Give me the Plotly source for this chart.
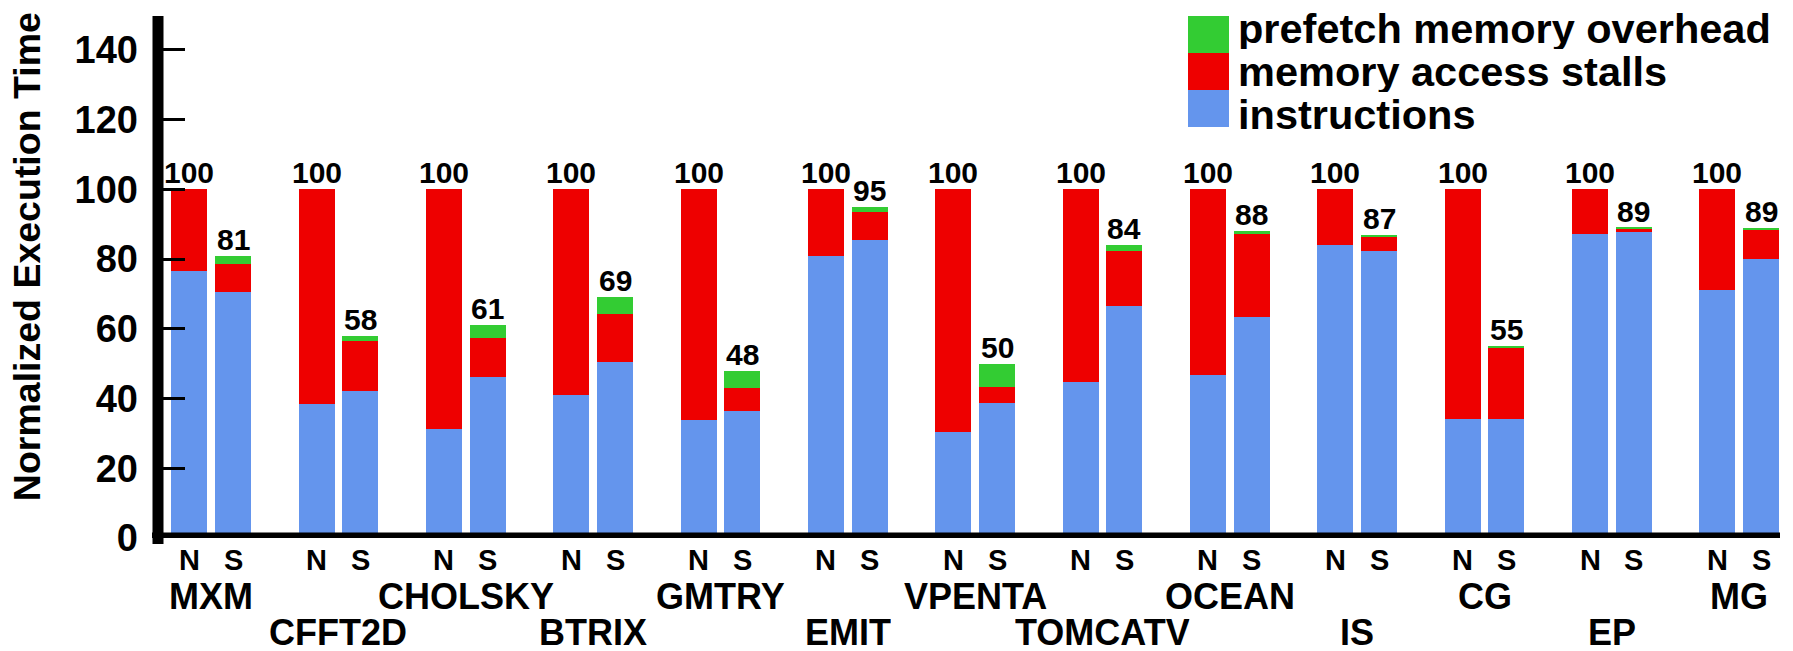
import plotly.graph_objects as go

# Benchmarks and the two variants drawn for each one
benchmarks = ["MXM", "CFFT2D", "CHOLSKY", "BTRIX", "GMTRY", "EMIT", "VPENTA",
              "TOMCATV", "OCEAN", "IS", "CG", "EP", "MG"]
variants = ["N", "S"]

# Normalized execution time components, N variant
instr_n = [76.6, 38.3, 31.4, 41.0, 33.8, 80.9, 30.4, 44.8, 46.7, 84.0, 34.1, 87.2, 71.0]
stall_n = [23.4, 61.7, 68.6, 59.0, 66.2, 19.1, 69.6, 55.2, 53.3, 16.0, 65.9, 12.8, 29.0]
over_n = [0.0, 0.0, 0.0, 0.0, 0.0, 0.0, 0.0, 0.0, 0.0, 0.0, 0.0, 0.0, 0.0]

# Normalized execution time components, S variant
instr_s = [70.6, 42.1, 46.2, 50.4, 36.5, 85.5, 38.8, 66.5, 63.3, 82.3, 34.1, 87.7, 79.9]
stall_s = [8.0, 14.3, 11.1, 13.8, 6.5, 7.9, 4.6, 15.8, 23.9, 4.2, 20.4, 1.0, 8.3]
over_s = [2.4, 1.6, 3.7, 4.8, 5.0, 1.6, 6.6, 1.7, 0.8, 0.5, 0.5, 0.3, 0.8]

y_ticks = [0, 20, 40, 60, 80, 100, 120, 140]

FAM = "Liberation Sans, Arial, sans-serif"
BLUE, RED, GREEN = "#6495ED", "#EE0000", "#33CC33"

# Pixel layout of the page
W, H = 1793, 651
ML, MR, MT, MB = 158, 13, 15, 113
PW, PH = W - ML - MR, H - MT - MB

OFFSET = 0.172   # half distance between N and S bar centres (group units)
BAR_W = 0.283

idx = list(range(len(benchmarks)))
x_n = [i - OFFSET for i in idx]
x_s = [i + OFFSET for i in idx]
x_all = x_n + x_s

series = [
    ("instructions", instr_n + instr_s, BLUE),
    ("memory access stalls", stall_n + stall_s, RED),
    ("prefetch memory overhead", over_n + over_s, GREEN),
]

fig = go.Figure()
for name, vals, color in series:
    fig.add_trace(go.Bar(
        x=x_all, y=vals, name=name, width=BAR_W,
        marker=dict(color=color, line=dict(width=0)),
        showlegend=False, hoverinfo="skip",
    ))

annotations = []

# Totals above each bar
totals = [a + b + c for a, b, c in zip(instr_n + instr_s, stall_n + stall_s, over_n + over_s)]
for x, t in zip(x_all, totals):
    annotations.append(dict(
        x=x, y=t, xref="x", yref="y", text=f"{t:.0f}", showarrow=False,
        xanchor="center", yanchor="bottom", yshift=-2,
        font=dict(family=FAM, size=30, color="black", weight="bold"),
    ))

# N / S labels under each bar
for i in idx:
    for x, v in ((x_n[i], variants[0]), (x_s[i], variants[1])):
        annotations.append(dict(
            x=x, y=0, xref="x", yref="paper", text=v, showarrow=False,
            xanchor="center", yanchor="middle", yshift=-22,
            font=dict(family=FAM, size=29, color="black", weight="bold"),
        ))

# Benchmark names, alternating over two rows
for i, name in enumerate(benchmarks):
    annotations.append(dict(
        x=i, y=0, xref="x", yref="paper", text=name, showarrow=False,
        xanchor="center", yanchor="middle", yshift=-58 if i % 2 == 0 else -94,
        height=34, valign="middle",
        font=dict(family=FAM, size=36, color="black", weight="bold"),
    ))

# Y axis title
annotations.append(dict(
    x=0, y=0.537, xref="paper", yref="paper", text="Normalized Execution Time",
    showarrow=False, textangle=-90, xanchor="center", yanchor="middle", xshift=-131,
    font=dict(family=FAM, size=37.5, color="black", weight="bold"),
))

# Legend: contiguous colour swatches with labels
def px_x(p):
    return (p - ML) / PW

def px_y(p):
    return (H - MB - p) / PH

shapes = []
legend_rows = [("prefetch memory overhead", GREEN, 28),
               ("memory access stalls", RED, 71),
               ("instructions", BLUE, 114)]
sw_x0, sw_x1, sw_top, sw_h = 1188, 1229, 16, 37
for k, (label, color, text_y) in enumerate(legend_rows):
    y0 = sw_top + k * sw_h
    shapes.append(dict(type="rect", xref="paper", yref="paper",
                       x0=px_x(sw_x0), x1=px_x(sw_x1), y0=px_y(y0 + sw_h), y1=px_y(y0),
                       fillcolor=color, line=dict(width=0), layer="above"))
    annotations.append(dict(
        x=px_x(1237), y=px_y(text_y), xref="paper", yref="paper",
        text=label, showarrow=False, xanchor="left", yanchor="middle",
        height=42, valign="middle", borderpad=0,
        font=dict(family=FAM, size=41.5, color="black", weight="bold"),
    ))

# Thick axis lines
shapes.append(dict(type="line", xref="paper", yref="y", x0=px_x(152), x1=1, y0=0, y1=0,
                   line=dict(color="black", width=11), layer="above"))
shapes.append(dict(type="line", xref="paper", yref="paper", x0=0, x1=0, y0=px_y(544), y1=px_y(16),
                   line=dict(color="black", width=11), layer="above"))

fig.update_layout(
    width=W, height=H,
    margin=dict(l=ML, r=MR, t=MT, b=MB, autoexpand=False),
    paper_bgcolor="white", plot_bgcolor="white",
    barmode="stack", bargap=0,
    showlegend=False,
    xaxis=dict(range=[-0.417, 12.32], showgrid=False, zeroline=False,
               showticklabels=False, ticks="", showline=False, fixedrange=True),
    yaxis=dict(range=[0, 150], tickvals=y_ticks, ticks="inside", ticklen=27, tickwidth=3,
               tickcolor="black", showgrid=False, zeroline=False, showline=False,
               ticklabelstandoff=19, automargin=False,
               tickfont=dict(family=FAM, size=38, color="black", weight="bold"),
               fixedrange=True),
    shapes=shapes,
    annotations=annotations,
)

fig.write_html("out.html")
